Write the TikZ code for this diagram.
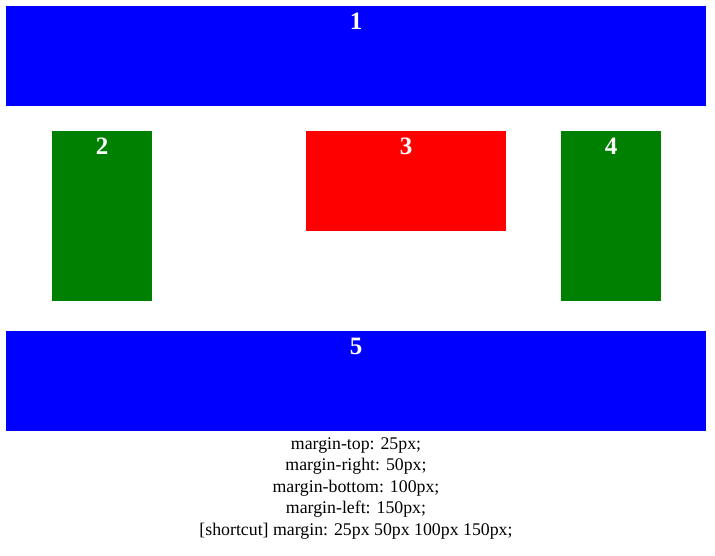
\documentclass[tikz,border=0pt]{standalone}
\usepackage{fontspec}
\setmainfont{Liberation Serif}
\definecolor{cssblue}{RGB}{0,0,255}
\definecolor{cssgreen}{RGB}{0,128,0}
\definecolor{cssred}{RGB}{255,0,0}
\begin{document}
\begin{tikzpicture}[x=1pt,y=-1pt,
  boxstyle/.style={draw=none,inner sep=0pt,outer sep=0pt,anchor=north west},
  numlabel/.style={text=white,inner sep=0pt,anchor=base,font=\fontsize{25}{30}\selectfont\bfseries},
  caption/.style={inner sep=0pt,anchor=base,font=\fontsize{17.8}{21}\selectfont}]
\useasboundingbox[fill=white] (0,0) rectangle (715,555);
\node[boxstyle,fill=cssblue,minimum width=700pt,minimum height=100pt] (b1) at (6,6) {};
\node[boxstyle,fill=cssgreen,minimum width=100pt,minimum height=170pt] (b2) at (52,131) {};
\node[boxstyle,fill=cssred,minimum width=200pt,minimum height=100pt] (b3) at (306,131) {};
\node[boxstyle,fill=cssgreen,minimum width=100pt,minimum height=170pt] (b4) at (561,131) {};
\node[boxstyle,fill=cssblue,minimum width=700pt,minimum height=100pt] (b5) at (6,331) {};
\node[numlabel] (l1) at (356,29) {1};
\node[numlabel] (l2) at (102,154) {2};
\node[numlabel] (l3) at (406,154) {3};
\node[numlabel] (l4) at (611,154) {4};
\node[numlabel] (l5) at (356,354) {5};
\node[caption] (t1) at (356,449) {margin-top: 25px;};
\node[caption] (t2) at (356,470.5) {margin-right: 50px;};
\node[caption] (t3) at (356,492) {margin-bottom: 100px;};
\node[caption] (t4) at (356,513.5) {margin-left: 150px;};
\node[caption] (t5) at (356,535) {[shortcut] margin: 25px 50px 100px 150px;};
\end{tikzpicture}
\end{document}
